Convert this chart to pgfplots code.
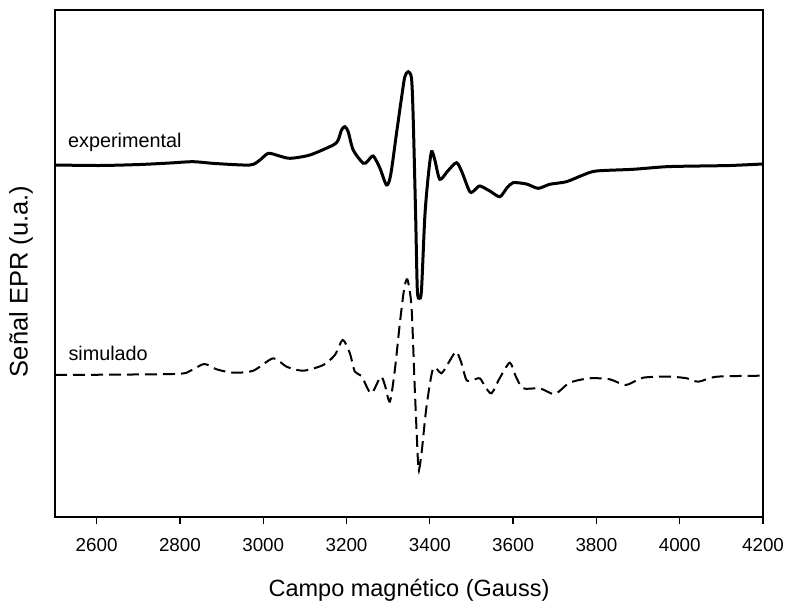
\documentclass[border=0pt]{standalone}
\usepackage{pgfplots}
\pgfplotsset{compat=1.18}
\usepackage{fontspec}
\setmainfont{Liberation Sans}
\begin{document}
\begin{tikzpicture}[x=1pt,y=1pt]
\useasboundingbox (0,0) rectangle (785,603);
\begin{axis}[
  at={(55pt,86pt)}, anchor=south west,
  width=708pt, height=507pt, scale only axis,
  xmin=2500, xmax=4200, ymin=-517, ymax=-10,
  xtick={2600,2800,...,4200}, ytick=\empty,
  tick pos=bottom, tick align=outside,
  major tick length=6.5pt,
  axis line style={line width=1.3pt},
  every tick/.style={black, line width=1.3pt},
  /pgf/number format/assume math mode=true,
  /pgf/number format/1000 sep={},
  xticklabel style={font=\fontsize{18.8}{22}\selectfont, yshift=-11pt},
  xlabel={Campo magnético (Gauss)},
  xlabel style={at={(axis cs:3350,-596.5)}, anchor=base, font=\fontsize{23.5}{28}\selectfont, inner sep=0pt},
  ylabel={Señal EPR (u.a.)},
  ylabel style={at={(axis cs:2434,-281.5)}, anchor=base, font=\fontsize{25.5}{30}\selectfont, inner sep=0pt},
  clip=false,
]
\addplot[black, line width=3pt, smooth, tension=0.45] coordinates {
(2500,-165) (2608,-165.5) (2704,-164.5) (2776,-163) (2832,-161.7) (2884,-163.5)
(2968,-165) (2992,-160) (3012,-153.3) (3035,-155.5) (3064,-158.3) (3112,-155)
(3168,-145) (3180,-140) (3188,-130) (3196,-126.7) (3204,-131.7) (3216,-150) (3240,-163.3) (3251,-161)
(3264,-156) (3280,-168) (3296,-185) (3306,-175) (3320,-133.3) (3333,-95)
(3340,-76.7) (3348,-71.7) (3356,-78.3) (3360,-116.7) (3366,-216.7) (3370,-290) (3375,-298.3) (3380,-290)
(3388,-216.7) (3396,-176.7) (3404,-151.7) (3412,-160) (3424,-179.3) (3443,-171)
(3464,-162.7) (3477,-172) (3496,-191.7) (3508,-190) (3520,-186) (3544,-191)
(3568,-196.7) (3585,-188) (3600,-182.7) (3632,-184) (3660,-188.3) (3688,-184.3)
(3728,-181.7) (3768,-175) (3800,-171) (3888,-169.3) (3968,-166.7) (4049,-166)
(4121,-165.5) (4200,-164)
};
\addplot[black, line width=2pt, dash pattern=on 12pt off 6pt, smooth, tension=0.45] coordinates {
(2500,-375) (2784,-374) (2824,-371) (2858,-364) (2888,-369.3) (2928,-372.7)
(2976,-370.7) (3024,-358.3) (3056,-366.7) (3096,-370.7) (3144,-365) (3172,-355)
(3191,-340) (3208,-353.3) (3220,-371.7) (3236,-376) (3259,-393.3) (3282,-376.7)
(3292,-385) (3304,-401.7) (3316,-370) (3328,-323.3) (3338,-290) (3346,-279.3)
(3356,-306.7) (3364,-390) (3372,-465) (3375,-468) (3381,-450) (3392,-406.7)
(3408,-368.3) (3428,-373.3) (3446,-362) (3463,-351.7) (3475,-362) (3488,-380)
(3503,-380) (3520,-378.3) (3532,-386) (3548,-393.3) (3568,-378) (3592,-362.7)
(3606,-376) (3624,-388.3) (3664,-388.3) (3700,-394) (3736,-382.7) (3784,-378.3)
(3832,-379.3) (3871,-385) (3912,-377.7) (3976,-376.7) (4017,-378.3) (4045,-381.7)
(4089,-376.7) (4200,-375.7)
};
\node[anchor=base west, inner sep=0pt, font=\fontsize{19.8}{24}\selectfont] at (axis cs:2531,-148) {experimental};
\node[anchor=base west, inner sep=0pt, font=\fontsize{19.8}{24}\selectfont] at (axis cs:2532,-360.7) {simulado};
\end{axis}
\end{tikzpicture}
\end{document}
